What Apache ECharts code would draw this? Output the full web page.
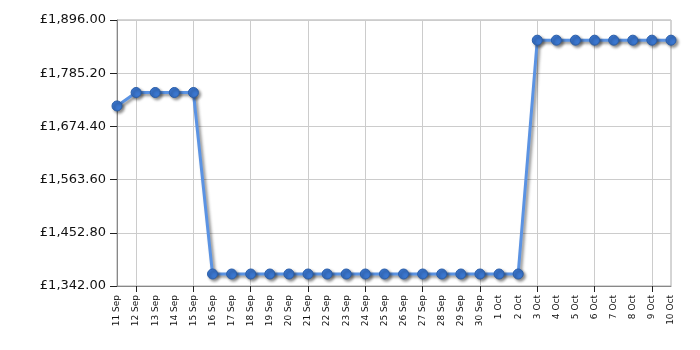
<!DOCTYPE html>
<html>
<head>
<meta charset="utf-8">
<script src="https://cdn.jsdelivr.net/npm/echarts@6/dist/echarts.min.js"></script>
<style>html,body{margin:0;padding:0;background:#fff}#c{width:700px;height:350px}</style>
</head>
<body>
<div id="c"></div>
<script>
const categories = ['11 Sep','12 Sep','13 Sep','14 Sep','15 Sep','16 Sep','17 Sep','18 Sep','19 Sep','20 Sep','21 Sep','22 Sep','23 Sep','24 Sep','25 Sep','26 Sep','27 Sep','28 Sep','29 Sep','30 Sep','1 Oct','2 Oct','3 Oct','4 Oct','5 Oct','6 Oct','7 Oct','8 Oct','9 Oct','10 Oct'];
const prices = [1717,1745,1745,1745,1745,1367,1367,1367,1367,1367,1367,1367,1367,1367,1367,1367,1367,1367,1367,1367,1367,1367,1854,1854,1854,1854,1854,1854,1854,1854];
const yMin = 1342, yMax = 1896, yStep = 110.8;

const chart = echarts.init(document.getElementById('c'), null, {renderer: 'canvas'});
const every3 = (i) => i % 3 === 1;
chart.setOption({
  animation: false,
  grid: {left: 117, right: 29, top: 20, bottom: 64, show: true, borderColor: '#aaa', borderWidth: 1},
  xAxis: {
    type: 'category', data: categories, boundaryGap: false,
    axisLine: {lineStyle: {color: '#888'}},
    axisTick: {show: true, interval: every3, length: 6, lineStyle: {color: '#222'}},
    axisLabel: {interval: 0, rotate: 90, fontFamily: 'DejaVu Sans', fontSize: 9, color: '#111', margin: 9},
    splitLine: {show: true, interval: every3, lineStyle: {color: '#ccc'}}
  },
  yAxis: {
    type: 'value', min: yMin, max: yMax, interval: yStep,
    axisLine: {show: true, lineStyle: {color: '#888'}},
    axisTick: {show: true, length: 7, lineStyle: {color: '#222'}},
    axisLabel: {fontFamily: 'DejaVu Sans', fontSize: 13, color: '#111', margin: 11,
      formatter: v => '£' + v.toLocaleString('en-GB', {minimumFractionDigits: 2, maximumFractionDigits: 2})},
    splitLine: {show: true, lineStyle: {color: '#ccc'}}
  },
  series: [{
    type: 'line', data: prices,
    symbol: 'circle', symbolSize: 10,
    lineStyle: {color: '#5b93e3', width: 3, shadowColor: 'rgba(0,0,0,0.45)', shadowBlur: 3, shadowOffsetX: 2, shadowOffsetY: 2},
    itemStyle: {color: '#3a76cf', borderColor: '#2b5ea8', borderWidth: 1, shadowColor: 'rgba(0,0,0,0.45)', shadowBlur: 3, shadowOffsetX: 2, shadowOffsetY: 2}
  }]
});
</script>
</body>
</html>
